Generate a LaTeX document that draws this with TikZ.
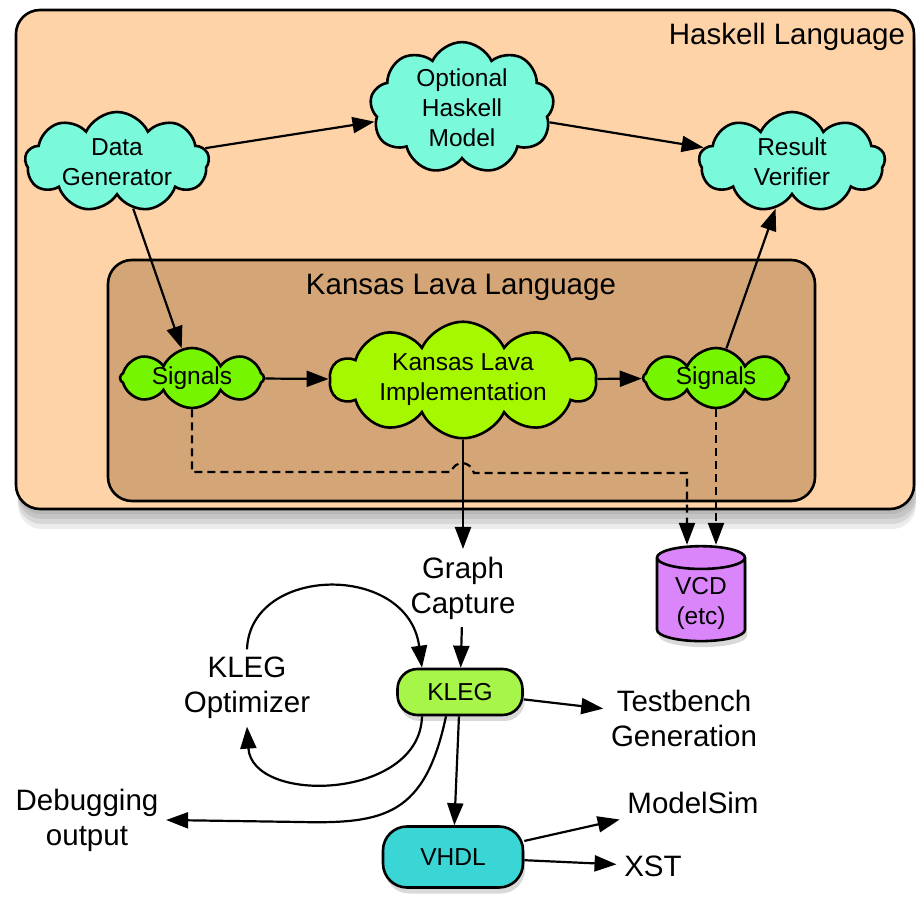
\documentclass[tikz,border=0pt]{standalone}
\usepackage{fontspec}
\setmainfont{Liberation Sans}
\usepackage{tikz}
\usetikzlibrary{shapes.symbols, shapes.geometric, shadows, positioning}
\usetikzlibrary{arrows.meta}
\tikzset{>={Triangle[length=11pt,width=8pt]}}
\definecolor{haskellbg}{HTML}{FDD3A7}
\definecolor{lavabg}{HTML}{D4A677}
\definecolor{cloudcyan}{HTML}{7BFADB}
\definecolor{signalgreen}{HTML}{76F500}
\definecolor{implgreen}{HTML}{A6F800}
\definecolor{keglime}{HTML}{A6F548}
\definecolor{vhdlteal}{HTML}{3AD5D5}
\definecolor{vcdpurple}{HTML}{DA85FA}

\begin{document}
\begin{tikzpicture}[x=0.5pt, y=-0.5pt, line width=1.1pt,
		bigtext/.style={font=\fontsize{14.75}{17.5}\selectfont, align=center},
		smalltext/.style={font=\fontsize{12.25}{15}\selectfont, align=center},
		puff/.style={cloud, cloud puffs=9, cloud puff arc=130, cloud ignores aspect, draw, line width=1.3pt, smalltext, inner sep=0pt},
		pill/.style={rectangle, draw, line width=1.3pt, smalltext, drop shadow={opacity=0.3, shadow xshift=1pt, shadow yshift=-3pt}},
		arr/.style={-{Triangle[length=11pt,width=8pt]}, line width=1.1pt},
		darr/.style={arr, dash pattern=on 4pt off 2.5pt}]
	\useasboundingbox (0,0) rectangle (916,897);

	% language regions
	\draw [line width=1.3pt, fill=haskellbg, rounded corners=12pt,
		drop shadow={opacity=0.2, shadow xshift=0.5pt, shadow yshift=-2.5pt},
		drop shadow={opacity=0.2, shadow xshift=1pt, shadow yshift=-5pt},
		drop shadow={opacity=0.2, shadow xshift=1pt, shadow yshift=-7.5pt},
		drop shadow={opacity=0.15, shadow xshift=1pt, shadow yshift=-10pt}] (16,10) rectangle (914,509);
	\node [bigtext] (haskell) at (787,37) {Haskell Language};
	\draw [line width=1.3pt, fill=lavabg, rounded corners=12pt] (108,260) rectangle (815,501);
	\node [bigtext] (lava) at (461,287) {Kansas Lava Language};

	% clouds
	\node [puff, fill=cloudcyan, minimum width=92pt, minimum height=50pt] (datagen) at (117,162) {Data\\Generator};
	\node [puff, fill=cloudcyan, minimum width=92pt, minimum height=64pt] (hmodel) at (462,108) {Optional\\Haskell\\Model};
	\node [puff, fill=cloudcyan, minimum width=93pt, minimum height=50pt] (verifier) at (792,162) {Result\\Verifier};
	\node [puff, fill=signalgreen, cloud puffs=8, minimum width=72pt, minimum height=30pt] (sigin) at (192,378) {Signals};
	\node [puff, fill=implgreen, cloud puffs=10, minimum width=133pt, minimum height=58pt] (impl) at (463,380) {Kansas Lava\\Implementation};
	\node [puff, fill=signalgreen, cloud puffs=8, minimum width=73pt, minimum height=30pt] (sigout) at (716,378) {Signals};

	% outside the languages
	\node [bigtext] (capture) at (463,588) {Graph\\Capture};
	\node [cylinder, shape border rotate=90, aspect=0.35, draw, line width=1.3pt, fill=vcdpurple, smalltext, minimum width=44pt, minimum height=47pt, drop shadow={opacity=0.3, shadow xshift=1pt, shadow yshift=-3pt}] (vcd) at (701,603) {VCD\\(etc)};
	\node [pill, fill=keglime, rounded corners=10pt, minimum width=62.5pt, minimum height=23pt] (kleg) at (460,692) {KLEG};
	\node [pill, fill=vhdlteal, rounded corners=12pt, minimum width=70pt, minimum height=30.5pt] (vhdl) at (453,857) {VHDL};
	\node [bigtext] (optim) at (247,688) {KLEG\\Optimizer};
	\node [bigtext] (testbench) at (684,718) {Testbench\\Generation};
	\node [bigtext] (debug) at (87,820) {Debugging\\output};
	\node [bigtext] (modelsim) at (693,803) {ModelSim};
	\node [bigtext] (xst) at (653,866) {XST};

	% haskell side
	\draw [arr] (datagen) -- (hmodel);
	\draw [arr] (hmodel) -- (verifier);
	\draw [arr] (datagen) -- (sigin);
	\draw [arr] (sigout) -- (verifier);
	\draw [arr] (sigin) -- (impl);
	\draw [arr] (impl) -- (sigout);

	% traces
	\draw [darr] (sigin.south) |- (451,472) .. controls (455,460) and (470,460) .. (474,473) -| ([xshift=-7pt]vcd.north);
	\draw [darr] (sigout.south) -- (sigout.south |- vcd.north);

	% kleg flow
	\draw [arr] (impl.south) -- (capture.north);
	\draw [arr] (capture) -- (kleg);
	\draw [arr] (optim.north) .. controls (250,565) and (408,562) .. ([xshift=-19pt]kleg.north);
	\draw [arr] ([xshift=-19pt]kleg.south) .. controls (420,800) and (252,805) .. (optim.south);
	\draw [arr] ([xshift=-7pt]kleg.south) .. controls (425,815) and (385,824) .. (300,822) -- (debug.east);
	\draw [arr] (kleg) -- (vhdl);
	\draw [arr] (kleg) -- (testbench);
	\draw [arr] (vhdl) -- (modelsim);
	\draw [arr] (vhdl) -- (xst);
\end{tikzpicture}
\end{document}
